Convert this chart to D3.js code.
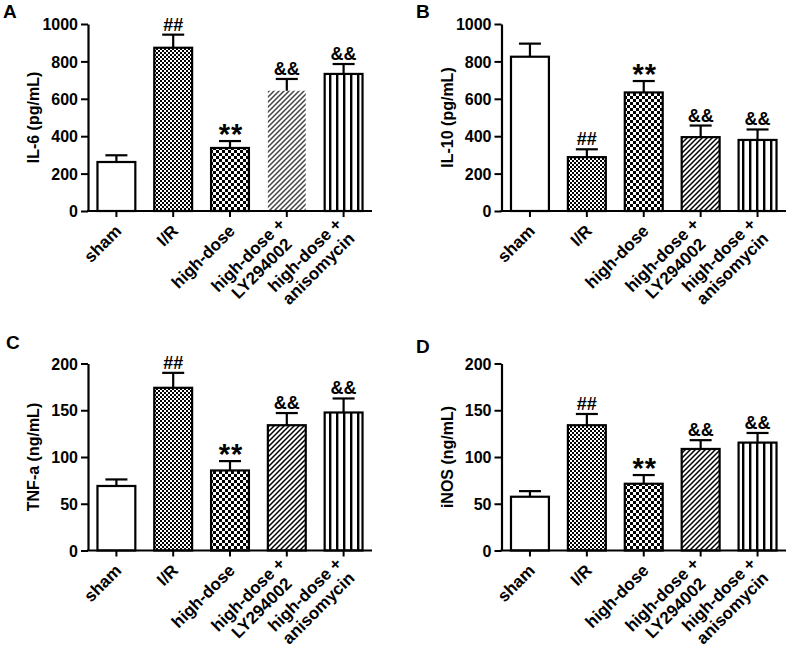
<!DOCTYPE html>
<html><head><meta charset="utf-8">
<script src="https://cdn.jsdelivr.net/npm/d3@7"></script>
<style>body{margin:0;background:#fff}svg{display:block}text{font-family:"Liberation Sans",Arial,sans-serif;font-weight:bold;fill:#000}</style>
</head><body><svg id="c" width="788" height="653"></svg>
<script>
const categories = [["sham"],["I/R"],["high-dose"],["high-dose +","LY294002"],["high-dose +","anisomycin"]];
const il6Means = [262, 873, 337, 643, 733];
const il6Errs  = [36, 70, 37, 63, 53];
const il10Means = [825, 288, 634, 395, 380];
const il10Errs  = [70, 42, 61, 62, 56];
const tnfMeans = [69, 174, 85.6, 134, 147.6];
const tnfErrs  = [7, 16, 10, 13, 15];
const inosMeans = [57.5, 134, 71.4, 108.6, 115.4];
const inosErrs  = [6, 12, 9.3, 9.4, 10.3];
const il6Marks  = ["", "##", "**", "&&", "&&"];
const il10Marks = ["", "##", "**", "&&", "&&"];
const tnfMarks  = ["", "##", "**", "&&", "&&"];
const inosMarks = ["", "##", "**", "&&", "&&"];
const ticks1000 = [0, 200, 400, 600, 800, 1000];
const ticks200 = [0, 50, 100, 150, 200];
const fills = ["#fff", "url(#fineCheck)", "url(#coarseCheck)", "url(#diag)", "url(#vert)"];

const svg = d3.select("#c");
const defs = svg.append("defs");
let p = defs.append("pattern").attr("id","fineCheck").attr("patternUnits","userSpaceOnUse").attr("width",4).attr("height",4);
p.append("rect").attr("width",4).attr("height",4).attr("fill","#fff");
p.append("rect").attr("width",2).attr("height",2).attr("fill","#000");
p.append("rect").attr("x",2).attr("y",2).attr("width",2).attr("height",2).attr("fill","#000");
p = defs.append("pattern").attr("id","coarseCheck").attr("patternUnits","userSpaceOnUse").attr("width",6).attr("height",6);
p.append("rect").attr("width",6).attr("height",6).attr("fill","#fff");
p.append("rect").attr("width",3).attr("height",3).attr("fill","#000");
p.append("rect").attr("x",3).attr("y",3).attr("width",3).attr("height",3).attr("fill","#000");
function diag(id, col){
  const q = defs.append("pattern").attr("id",id).attr("patternUnits","userSpaceOnUse").attr("width",5).attr("height",5);
  q.append("rect").attr("width",5).attr("height",5).attr("fill","#fff");
  q.append("path").attr("d","M-1,6 L6,-1 M-1,1 L1,-1 M4,6 L6,4").attr("stroke",col).attr("stroke-width",1.5);
}
diag("diag","#000"); diag("diagGray","#444");
p = defs.append("pattern").attr("id","vert").attr("patternUnits","userSpaceOnUse").attr("width",7).attr("height",7);
p.append("rect").attr("width",7).attr("height",7).attr("fill","#fff");
p.append("rect").attr("x",0).attr("width",2.4).attr("height",7).attr("fill","#000");

const panels = [
  {letter:"A", lx:3, ly:18, means:il6Means, errs:il6Errs, marks:il6Marks, ticks:ticks1000, max:1000, title:"IL-6 (pg/mL)", ax:88, top:24, bot:211, xEnd:372, lyPlain:true},
  {letter:"B", lx:416, ly:18, means:il10Means, errs:il10Errs, marks:il10Marks, ticks:ticks1000, max:1000, title:"IL-10 (pg/mL)", ax:501.5, top:24, bot:211, xEnd:786, lyPlain:false},
  {letter:"C", lx:6, ly:349, means:tnfMeans, errs:tnfErrs, marks:tnfMarks, ticks:ticks200, max:200, title:"TNF-a (ng/mL)", ax:88, top:363.5, bot:550.5, xEnd:372, lyPlain:false},
  {letter:"D", lx:416, ly:353, means:inosMeans, errs:inosErrs, marks:inosMarks, ticks:ticks200, max:200, title:"iNOS (ng/mL)", ax:501.5, top:363.5, bot:550.5, xEnd:786, lyPlain:false}
];

panels.forEach(P => {
  const g = svg.append("g");
  const y = d3.scaleLinear().domain([0, P.max]).range([P.bot, P.top]);
  const x = d3.scaleBand().domain(d3.range(categories.length)).range([P.ax, P.xEnd]).paddingInner(1/3).paddingOuter(1/6);
  g.append("text").attr("x",P.lx).attr("y",P.ly).attr("font-size",19).text(P.letter);
  P.means.forEach((m,i) => {
    const plain = (i===3 && P.lyPlain);
    g.append("rect").attr("x",x(i)).attr("y",y(m)).attr("width",x.bandwidth()).attr("height",y(0)-y(m))
      .attr("fill", plain ? "url(#diagGray)" : fills[i])
      .attr("stroke", plain ? "none" : "#000").attr("stroke-width",2.2);
    const cx = x(i)+x.bandwidth()/2, et = y(m+P.errs[i]);
    g.append("line").attr("x1",cx).attr("x2",cx).attr("y1",y(m)).attr("y2",et).attr("stroke","#000").attr("stroke-width",2.2);
    g.append("line").attr("x1",cx-11).attr("x2",cx+11).attr("y1",et).attr("y2",et).attr("stroke","#000").attr("stroke-width",2.2);
    const mk = P.marks[i];
    if (mk) {
      if (mk === "**") {
        g.append("text").attr("x",cx+1).attr("y",et+3).attr("text-anchor","middle").attr("font-size",29).attr("letter-spacing",1).text(mk);
      } else {
        g.append("text").attr("x",cx).attr("y",et-4).attr("text-anchor","middle").attr("font-size",18).text(mk);
      }
    }
  });
  const ya = g.append("g").attr("transform",`translate(${P.ax},0)`)
    .call(d3.axisLeft(y).tickValues(P.ticks).tickFormat(d3.format("d")).tickSize(7).tickSizeOuter(0).tickPadding(3));
  ya.select(".domain").attr("stroke-width",2.2);
  ya.selectAll(".tick line").attr("stroke-width",2);
  ya.selectAll("text").attr("font-size",16).attr("font-family",null).attr("dy","0.35em");
  const xa = g.append("g").attr("transform",`translate(0,${P.bot})`)
    .call(d3.axisBottom(x).tickSize(6).tickSizeOuter(0).tickFormat(""));
  xa.select(".domain").attr("d",`M${P.ax-1},0H${P.xEnd}`).attr("stroke-width",2.2);
  xa.selectAll(".tick line").attr("stroke-width",2);
  categories.forEach((lines,i) => {
    const cx = x(i)+x.bandwidth()/2;
    const t = g.append("text").attr("font-size",17)
      .attr("transform",`translate(${cx+6},${P.bot+21}) rotate(-45)`);
    const lh = 19;
    const first = t.append("tspan").attr("x",0).attr("text-anchor","end").text(lines[0]);
    if (lines.length > 1) {
      first.attr("dy", -lh/2);
      const w = first.node().getComputedTextLength();
      t.append("tspan").attr("x",-w/2).attr("dy",lh).attr("text-anchor","middle").text(lines[1]);
    }
  });
  g.append("text").attr("font-size",16).attr("text-anchor","middle")
    .attr("transform",`translate(${P.ax-49},${(P.top+P.bot)/2}) rotate(-90)`).text(P.title);
});
</script></body></html>
